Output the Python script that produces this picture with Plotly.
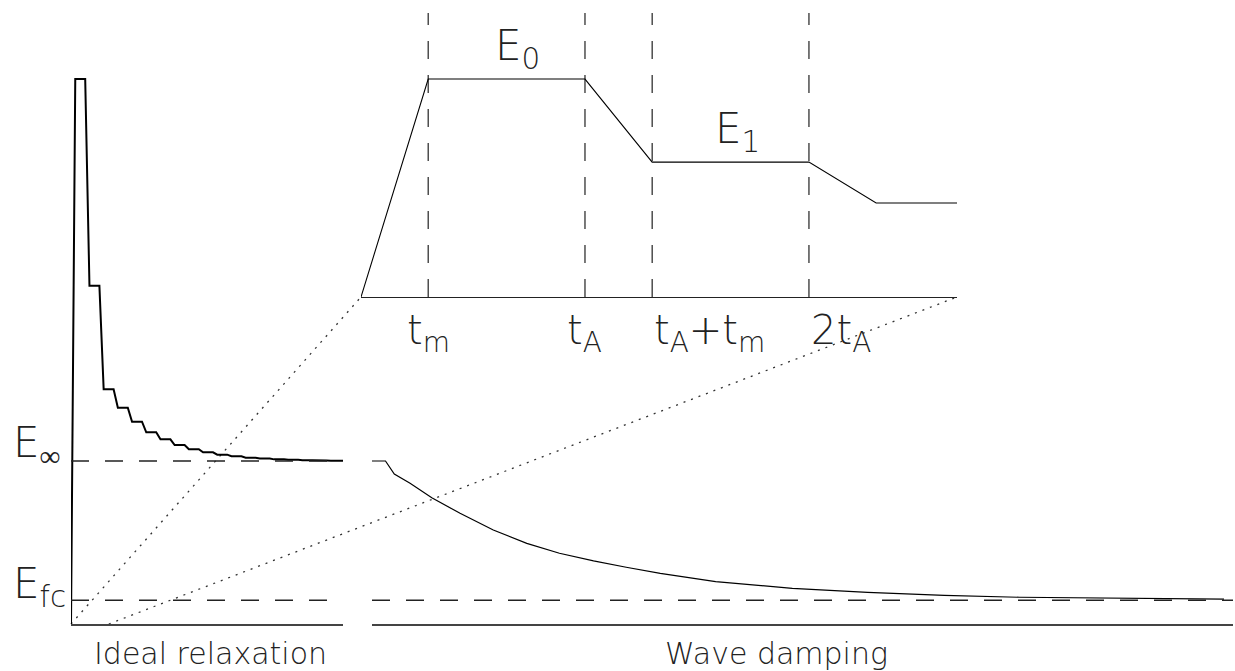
import plotly.graph_objects as go

# ---- schematic data (times in units of t_A, energies in units of E_inf / E_0) ----
T_M = 0.3                      # ramp time t_m / t_A
E_INF = 1.0
E_FC = 0.145

# ideal relaxation: level held during each Alfven period
relax_levels = [3.344, 2.075, 1.440, 1.327, 1.241, 1.176, 1.133, 1.098, 1.072,
                1.053, 1.039, 1.029, 1.020, 1.015, 1.010, 1.007, 1.005, 1.003,
                1.002, 1.001]

# wave damping curve
damp_t = [0.0, 0.95, 1.57, 2.68, 4.21, 6.2, 8.54, 10.9, 13.2, 15.6, 17.9, 20.3,
          24.2, 29.6, 34.9, 40.3, 45.6, 50.9, 56.3, 60.0]
damp_E = [1.0, 1.0, 0.920, 0.863, 0.775, 0.679, 0.577, 0.495, 0.434, 0.387,
          0.348, 0.311, 0.260, 0.219, 0.194, 0.176, 0.164, 0.158, 0.153, 0.152]

# inset: first two Alfven periods
inset_t = [0.0, 0.3, 1.0, 1.3, 2.0, 2.3, 2.661]
inset_E = [0.0, 1.0, 1.0, 0.619, 0.619, 0.431, 0.431]
inset_marks = [0.3, 1.0, 1.3, 2.0]
inset_E_labels = [("E<sub>0</sub>", 0.70, 1.0), ("E<sub>1</sub>", 1.68, 0.619)]

# ---- layout geometry ----
W, H = 1235, 671
LEFT_DOM = [71 / W, 343 / W]
LEFT_RNG = [0, 19.155]
RIGHT_DOM = [372 / W, 1233 / W]
RIGHT_RNG = [0, 60.63]
Y_DOM = [1 - 624 / H, 1.0]
Y_RNG = [0, 3.828]
INS_XDOM = [361 / W, 957 / W]
INS_XRNG = [0, 2.661]
INS_YDOM = [1 - 297 / H, 1 - 13 / H]
INS_YRNG = [0, 1.303]


def to_paper(x, y, xdom, xrng, ydom, yrng):
    px = xdom[0] + (x - xrng[0]) / (xrng[1] - xrng[0]) * (xdom[1] - xdom[0])
    py = ydom[0] + (y - yrng[0]) / (yrng[1] - yrng[0]) * (ydom[1] - ydom[0])
    return px, py


# staircase path from the level list
stair_x, stair_y = [0.0], [0.0]
for k, lev in enumerate(relax_levels):
    stair_x += [k + T_M, k + 1.0]
    stair_y += [lev, lev]

FONT = dict(family="DejaVu Sans", color="#222", weight=200)
DASH = "18px,16px"

fig = go.Figure()

# left panel
fig.add_trace(go.Scatter(x=stair_x, y=stair_y, mode="lines",
                         line=dict(color="black", width=2), xaxis="x", yaxis="y"))
for lev in (E_INF, E_FC):
    fig.add_trace(go.Scatter(x=[0, LEFT_RNG[1]], y=[lev, lev], mode="lines",
                             line=dict(color="#222", width=1.5, dash=DASH),
                             xaxis="x", yaxis="y"))

# right panel
fig.add_trace(go.Scatter(x=damp_t, y=damp_E, mode="lines",
                         line=dict(color="black", width=1.2),
                         xaxis="x2", yaxis="y"))
fig.add_trace(go.Scatter(x=[0, RIGHT_RNG[1]], y=[E_FC, E_FC], mode="lines",
                         line=dict(color="#222", width=1.5, dash=DASH),
                         xaxis="x2", yaxis="y"))

# inset
for tm in inset_marks:
    fig.add_trace(go.Scatter(x=[tm, tm], y=[0, INS_YRNG[1]], mode="lines",
                             line=dict(color="#222", width=1.2, dash=DASH),
                             xaxis="x3", yaxis="y3"))
fig.add_trace(go.Scatter(x=inset_t, y=inset_E, mode="lines",
                         line=dict(color="black", width=1.1), xaxis="x3", yaxis="y3"))

# dotted zoom guides from the left panel to the inset
for t in (0.0, INS_XRNG[1]):
    x0, y0 = to_paper(t, 0, LEFT_DOM, LEFT_RNG, Y_DOM, Y_RNG)
    x1, y1 = to_paper(t, 0, INS_XDOM, INS_XRNG, INS_YDOM, INS_YRNG)
    fig.add_shape(type="line", xref="paper", yref="paper", x0=x0, y0=y0, x1=x1, y1=y1,
                  line=dict(color="#333", width=1.3, dash="2px,6px"), layer="below")

ann = []
# energy labels on the left
ann.append(dict(text="E<sub>∞</sub>", xref="paper", yref="y", x=11 / W, y=E_INF,
                xanchor="left", yanchor="middle", yshift=15, font=dict(size=42, **FONT)))
ann.append(dict(text="E<sub>fc</sub>", xref="paper", yref="y", x=11 / W, y=E_FC,
                xanchor="left", yanchor="middle", yshift=14, font=dict(size=42, **FONT)))
# panel titles
ann.append(dict(text="Ideal relaxation", xref="paper", yref="paper", x=210 / W, y=1 - 653 / H,
                xanchor="center", yanchor="middle", font=dict(size=30, **FONT)))
ann.append(dict(text="Wave damping", xref="paper", yref="paper", x=776 / W, y=1 - 653 / H,
                xanchor="center", yanchor="middle", font=dict(size=30, **FONT)))
# inset energies
for txt, t, e in inset_E_labels:
    ann.append(dict(text=txt, xref="x3", yref="y3", x=t, y=e, xanchor="center",
                    yanchor="bottom", yshift=1, font=dict(size=42, **FONT)))
# inset time labels
tick_text = ["t<sub>m</sub>", "t<sub>A</sub>", "t<sub>A</sub>+t<sub>m</sub>", "2t<sub>A</sub>"]
tick_anchor = ["center", "center", "left", "left"]
for txt, t, a in zip(tick_text, inset_marks, tick_anchor):
    ann.append(dict(text=txt, xref="x3", yref="y3", x=t, y=0, xanchor=a,
                    yanchor="top", yshift=-8, font=dict(size=40, **FONT)))
for a in ann:
    a["showarrow"] = False

hidden = dict(showgrid=False, zeroline=False, showticklabels=False, ticks="", fixedrange=True)
fig.update_layout(
    width=W, height=H, autosize=False,
    margin=dict(l=0, r=0, t=0, b=0),
    paper_bgcolor="white", plot_bgcolor="rgba(0,0,0,0)",
    showlegend=False,
    xaxis=dict(domain=LEFT_DOM, range=LEFT_RNG, anchor="y", showline=True,
               linecolor="#444", linewidth=1.6, **hidden),
    xaxis2=dict(domain=RIGHT_DOM, range=RIGHT_RNG, anchor="y", showline=True,
                linecolor="#444", linewidth=1.6, **hidden),
    yaxis=dict(domain=Y_DOM, range=Y_RNG, anchor="x", showline=False, **hidden),
    xaxis3=dict(domain=INS_XDOM, range=INS_XRNG, anchor="y3", showline=True,
                linecolor="#222", linewidth=1.4, **hidden),
    yaxis3=dict(domain=INS_YDOM, range=INS_YRNG, anchor="x3", showline=False, **hidden),
    annotations=ann,
)

fig.write_html("out.html")
